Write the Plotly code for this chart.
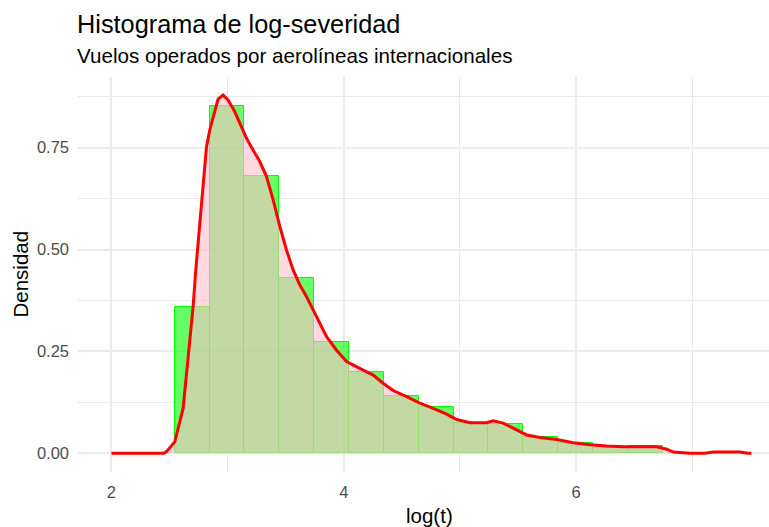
import plotly.graph_objects as go

# Histogram (density scale), bin width 0.3
bin_centers = [2.695, 2.995, 3.295, 3.595, 3.895, 4.195, 4.495, 4.795,
               5.095, 5.395, 5.695, 5.995, 6.295, 6.595]
bin_density = [0.360, 0.853, 0.680, 0.429, 0.272, 0.200, 0.141, 0.113,
               0.075, 0.071, 0.041, 0.026, 0.014, 0.018]
bin_width = 0.3

# Kernel density estimate
kde_x = [2.0, 2.45, 2.474, 2.50, 2.545, 2.617, 2.668, 2.703, 2.726, 2.761, 2.789,
         2.818, 2.847, 2.890, 2.918, 2.961, 3.004, 3.062, 3.120, 3.163,
         3.220, 3.277, 3.335, 3.392, 3.450, 3.507, 3.564, 3.622, 3.680,
         3.736, 3.794, 3.852, 3.938, 4.024, 4.167, 4.253, 4.339, 4.425,
         4.541, 4.655, 4.770, 4.885, 4.972, 5.086, 5.230, 5.287, 5.373,
         5.459, 5.574, 5.689, 5.833, 5.976, 6.120, 6.264, 6.407, 6.550,
         6.694, 6.780, 6.837, 6.980, 7.110, 7.180, 7.410, 7.480, 7.510]
kde_y = [0.0, 0.0, 0.004, 0.012, 0.028, 0.110, 0.262, 0.360, 0.450, 0.564, 0.646,
         0.752, 0.794, 0.843, 0.869, 0.879, 0.867, 0.838, 0.801, 0.773,
         0.744, 0.716, 0.679, 0.622, 0.556, 0.499, 0.450, 0.413, 0.384,
         0.352, 0.319, 0.286, 0.253, 0.225, 0.204, 0.192, 0.172, 0.154,
         0.139, 0.123, 0.110, 0.096, 0.083, 0.075, 0.075, 0.080, 0.074,
         0.061, 0.045, 0.039, 0.034, 0.026, 0.021, 0.018, 0.016, 0.016,
         0.016, 0.010, 0.003, 0.0, 0.0, 0.003, 0.003, 0.0, 0.0]

x_ticks = [2, 4, 6]
x_ticktext = ["2", "4", "6"]
y_ticks = [0, 0.25, 0.5, 0.75]
y_ticktext = ["0.00", "0.25", "0.50", "0.75"]

title = "Histograma de log-severidad"
subtitle = "Vuelos operados por aerolíneas internacionales"
x_title = "log(t)"
y_title = "Densidad"

FONT = "Liberation Sans, Arial, sans-serif"
GRID = "#EBEBEB"

fig = go.Figure()
fig.add_trace(go.Bar(
    x=bin_centers, y=bin_density, width=bin_width,
    marker=dict(color="rgba(0,255,0,0.6)", line=dict(color="#00FF00", width=1)),
    hoverinfo="skip", showlegend=False,
))
fig.add_trace(go.Scatter(
    x=kde_x, y=kde_y, mode="lines", fill="tozeroy",
    fillcolor="rgba(255,192,203,0.6)",
    line=dict(color="#FF0000", width=3),
    hoverinfo="skip", showlegend=False,
))

fig.update_layout(
    width=769, height=527,
    margin=dict(l=78, r=0, t=77, b=55),
    paper_bgcolor="white", plot_bgcolor="white",
    bargap=0,
    font=dict(family=FONT, color="black"),
    xaxis=dict(
        range=[1.712, 7.661], tickmode="array", tickvals=x_ticks, ticktext=x_ticktext,
        showgrid=True, gridcolor=GRID, gridwidth=1.6, zeroline=False, showline=False,
        ticks="", tickfont=dict(size=16.5, color="#4D4D4D", family=FONT),
        ticklabelstandoff=8,
        minor=dict(tickvals=[3, 5, 7], showgrid=True, gridcolor=GRID, gridwidth=1.4),
    ),
    yaxis=dict(
        range=[-0.0459, 0.9234], tickmode="array", tickvals=y_ticks, ticktext=y_ticktext,
        showgrid=True, gridcolor=GRID, gridwidth=1.6, zeroline=False, showline=False,
        ticks="", tickfont=dict(size=16.5, color="#4D4D4D", family=FONT),
        ticklabelstandoff=8,
        minor=dict(tickvals=[0.125, 0.375, 0.625, 0.875], showgrid=True,
                   gridcolor=GRID, gridwidth=1.4),
    ),
    annotations=[
        dict(text=title, xref="paper", yref="paper", x=-0.004, y=1.1334,
             xanchor="left", yanchor="middle", showarrow=False,
             font=dict(size=25.3, color="black", family=FONT)),
        dict(text=subtitle, xref="paper", yref="paper", x=-0.004, y=1.0535,
             xanchor="left", yanchor="middle", showarrow=False,
             font=dict(size=20.6, color="black", family=FONT)),
        dict(text=x_title, xref="paper", yref="paper", x=0.508, y=-0.1089,
             xanchor="center", yanchor="middle", showarrow=False,
             font=dict(size=20.5, color="black", family=FONT)),
        dict(text=y_title, xref="paper", yref="paper", x=-0.0839, y=0.5,
             xanchor="center", yanchor="middle", showarrow=False, textangle=-90,
             font=dict(size=20.5, color="black", family=FONT)),
    ],
)

fig.write_html(
    "out.html",
    config={"displayModeBar": False},
    post_script="document.body.style.margin='0';document.body.style.padding='0';",
)
